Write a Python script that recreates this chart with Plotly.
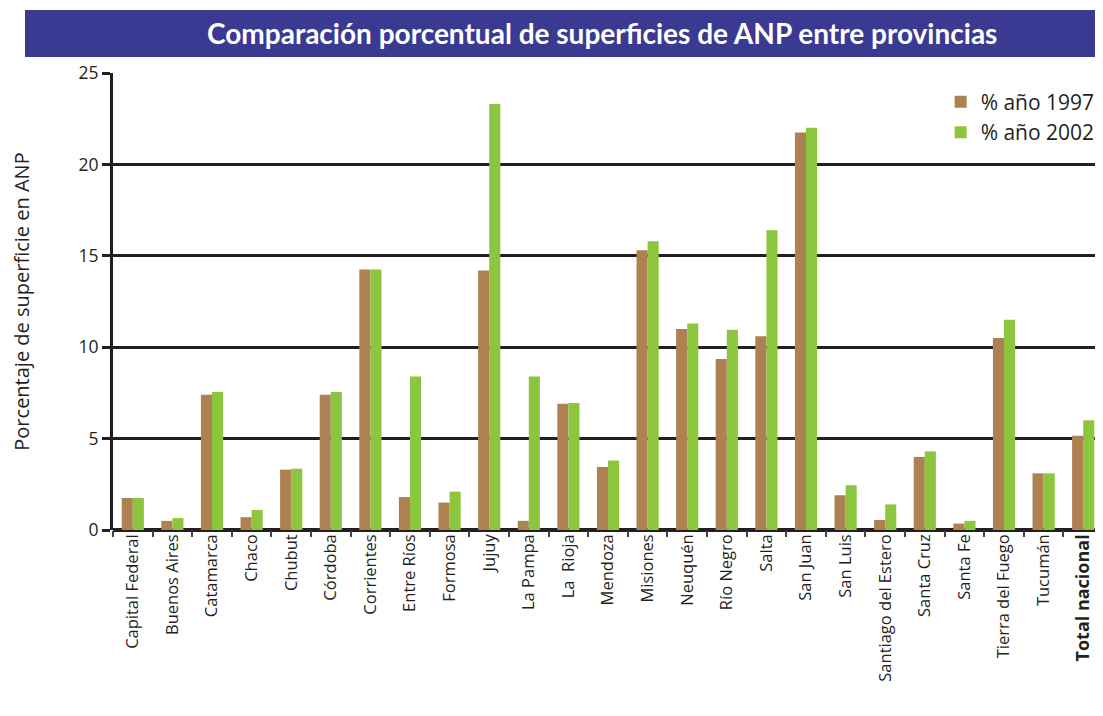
import plotly.graph_objects as go

provincias = ["Capital Federal", "Buenos Aires", "Catamarca", "Chaco", "Chubut", "Córdoba",
              "Corrientes", "Entre Ríos", "Formosa", "Jujuy", "La Pampa", "La\u00a0 Rioja",
              "Mendoza", "Misiones", "Neuquén", "Río Negro", "Salta", "San Juan", "San Luis",
              "Santiago del Estero", "Santa Cruz", "Santa Fe", "Tierra del Fuego", "Tucumán",
              "Total nacional"]
pct_1997 = [1.75, 0.5, 7.4, 0.7, 3.3, 7.4, 14.25, 1.8, 1.5, 14.2, 0.5, 6.9, 3.45, 15.3,
            11.0, 9.35, 10.6, 21.75, 1.9, 0.55, 4.0, 0.35, 10.5, 3.1, 5.15]
pct_2002 = [1.75, 0.65, 7.55, 1.1, 3.35, 7.55, 14.25, 8.4, 2.1, 23.3, 8.4, 6.95, 3.8, 15.8,
            11.3, 10.95, 16.4, 22.0, 2.45, 1.4, 4.3, 0.5, 11.5, 3.1, 6.0]
y_ticks = [0, 5, 10, 15, 20, 25]

BROWN = "#ae8152"
GREEN = "#8cc63f"
FONT = "Open Sans"
TFONT = "Lato"
TXT = "#231f20"

tick_text = [p if p != "Total nacional" else
             '<span style="font-size:18px"><b>' + p + "</b></span>"
             for p in provincias]

fig = go.Figure()
fig.add_trace(go.Bar(x=provincias, y=pct_1997, name="% año 1997", marker_color=BROWN,
                     marker_line_width=0))
fig.add_trace(go.Bar(x=provincias, y=pct_2002, name="% año 2002", marker_color=GREEN,
                     marker_line_width=0))

fig.update_layout(
    width=1095, height=708,
    margin=dict(l=105, r=0, t=65, b=186, autoexpand=False),
    paper_bgcolor="white", plot_bgcolor="white",
    barmode="group", bargap=0.44, bargroupgap=0,
    font=dict(family=FONT, color=TXT),
    showlegend=True,
    legend=dict(x=0.836, y=0.981, xanchor="left", yanchor="top",
                font=dict(size=21, family=FONT, color=TXT),
                bgcolor="rgba(0,0,0,0)", itemwidth=30, tracegroupgap=0),
    xaxis=dict(
        type="category", tickangle=-90, tickfont=dict(size=16.5, family=FONT, color=TXT),
        tickvals=provincias, ticktext=tick_text,
        showgrid=False, showline=False, ticks="outside", tickson="boundaries",
        ticklen=6, tickwidth=2, tickcolor="#444", zeroline=False,
    ),
    yaxis=dict(
        range=[0, 25], tickvals=y_ticks, showgrid=True, gridcolor=TXT, gridwidth=3,
        ticks="outside", ticklen=8, tickwidth=3, tickcolor=TXT,
        tickfont=dict(size=17.5, family=FONT, color=TXT),
        showline=True, linecolor=TXT, linewidth=3, zeroline=True,
        zerolinecolor=TXT, zerolinewidth=4,
        title=dict(text="Porcentaje de superficie en ANP", standoff=44,
                   font=dict(size=20, family=FONT, color=TXT)),
    ),
    shapes=[dict(type="rect", xref="paper", yref="paper",
                 x0=-0.0889, x1=1.0, y0=1.035, y1=1.138,
                 fillcolor="#3b3a92", line_width=0, layer="above")],
    annotations=[dict(text="<b>Comparación porcentual de superficies de ANP entre provincias</b>",
                      xref="paper", yref="paper", x=0.494, y=1.087,
                      xanchor="center", yanchor="middle", showarrow=False,
                      font=dict(size=28, family=TFONT, color="white"))],
)

fig.write_html("out.html")
